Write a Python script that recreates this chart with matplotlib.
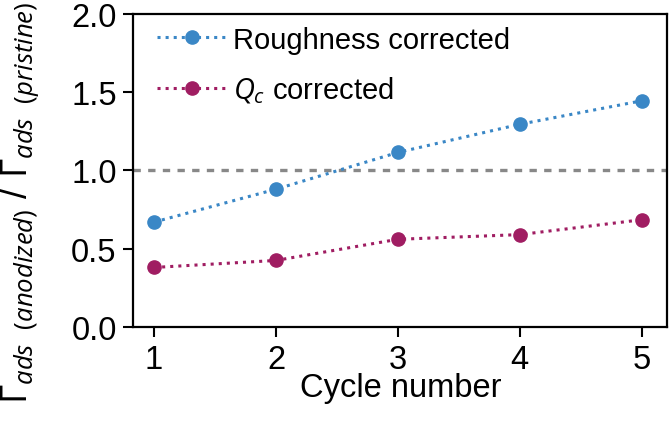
import matplotlib
matplotlib.use('Agg')
import matplotlib.pyplot as plt

plt.rcParams['font.family'] = ['Liberation Sans', 'DejaVu Sans']
plt.rcParams['mathtext.fontset'] = 'custom'
plt.rcParams['mathtext.rm'] = 'Open Sans'
plt.rcParams['mathtext.it'] = 'Open Sans:italic'

cycles = [1, 2, 3, 4, 5]
roughness = [0.67, 0.88, 1.115, 1.295, 1.445]
qc = [0.38, 0.425, 0.56, 0.59, 0.685]

blue = '#3a87c6'
red = '#a01d62'

fig = plt.figure(figsize=(6.7, 4.27), dpi=100)
ax = fig.add_axes([0.199, 0.232, 0.797, 0.733])

ax.axhline(1.0, color='#888888', lw=2.4, ls=(0, (2.2, 2.2)), zorder=1)
ax.plot(cycles, roughness, ls=':', lw=2.2, marker='o', ms=9.5, color=blue,
        label='Roughness corrected', zorder=3)
ax.plot(cycles, qc, ls=':', lw=2.2, marker='o', ms=9.5, color=red,
        label='$Q_c$ corrected', zorder=3)

ax.set_xlim(0.83, 5.21)
ax.set_ylim(0, 2.0)
ax.set_xticks(cycles)
ax.set_yticks([0.0, 0.5, 1.0, 1.5, 2.0])
ax.tick_params(labelsize=23.5, length=7, width=1.5, direction='out', pad=5)
for s in ax.spines.values():
    s.set_linewidth(1.6)

ax.set_xlabel('Cycle number', fontsize=23.5, labelpad=-2)
fig.text(0.03, 0.525,
         r'$\Gamma_{ads\ \ (anodized)}$ / $\Gamma_{ads\ \ (pristine)}$',
         rotation=90, ha='center', va='center', fontsize=26.5)

ax.legend(loc='upper left', frameon=False, fontsize=21, handlelength=2.4,
          handletextpad=0.2, borderaxespad=0.0, labelspacing=0.7,
          bbox_to_anchor=(0.022, 1.0))

fig.savefig('out.png', dpi=100)
